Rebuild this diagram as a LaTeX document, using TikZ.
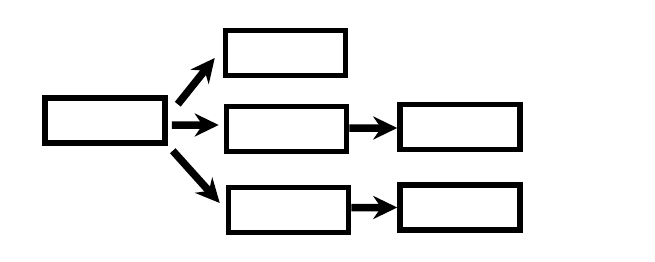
\documentclass[tikz,border=0pt]{standalone}
\usepackage{tikz}
\usetikzlibrary{arrows.meta}

\begin{document}
\begin{tikzpicture}[
  box/.style={draw, line width=0.11cm, minimum width=2.4cm, minimum height=0.9cm, inner sep=0pt},
  arr/.style={-{Stealth[length=0.48cm,width=0.46cm]}, line width=0.15cm}
]
  \useasboundingbox (0,0) rectangle (13.1,5.22);

  % Source
  \node[box] (src) at (2.10,2.81) {};

  % Middle column
  \node[box] (top) at (5.71,4.16) {};
  \node[box] (mid) at (5.73,2.64) {};
  \node[box] (bot) at (5.77,1.02) {};
  \draw[arr] ([xshift=0.2cm,yshift=-0.18cm]src.north east) -- ([xshift=-0.16cm,yshift=-0.1cm]top.west);
  \draw[arr] ([xshift=0.08cm,yshift=-0.09cm]src.east) -- ([xshift=-0.1cm,yshift=0.08cm]mid.west);
  \draw[arr] ([xshift=0.1cm,yshift=-0.1cm]src.south east) -- ([xshift=-0.12cm,yshift=0.14cm]bot.west);

  % Right column
  \node[box] (rmid) at (9.20,2.68) {};
  \node[box] (rbot) at (9.20,1.07) {};
  \draw[arr] ([yshift=0.02cm]mid.east) -- ([yshift=-0.02cm]rmid.west);
  \draw[arr] ([yshift=0.05cm]bot.east) -- ([yshift=0cm]rbot.west);
\end{tikzpicture}
\end{document}
